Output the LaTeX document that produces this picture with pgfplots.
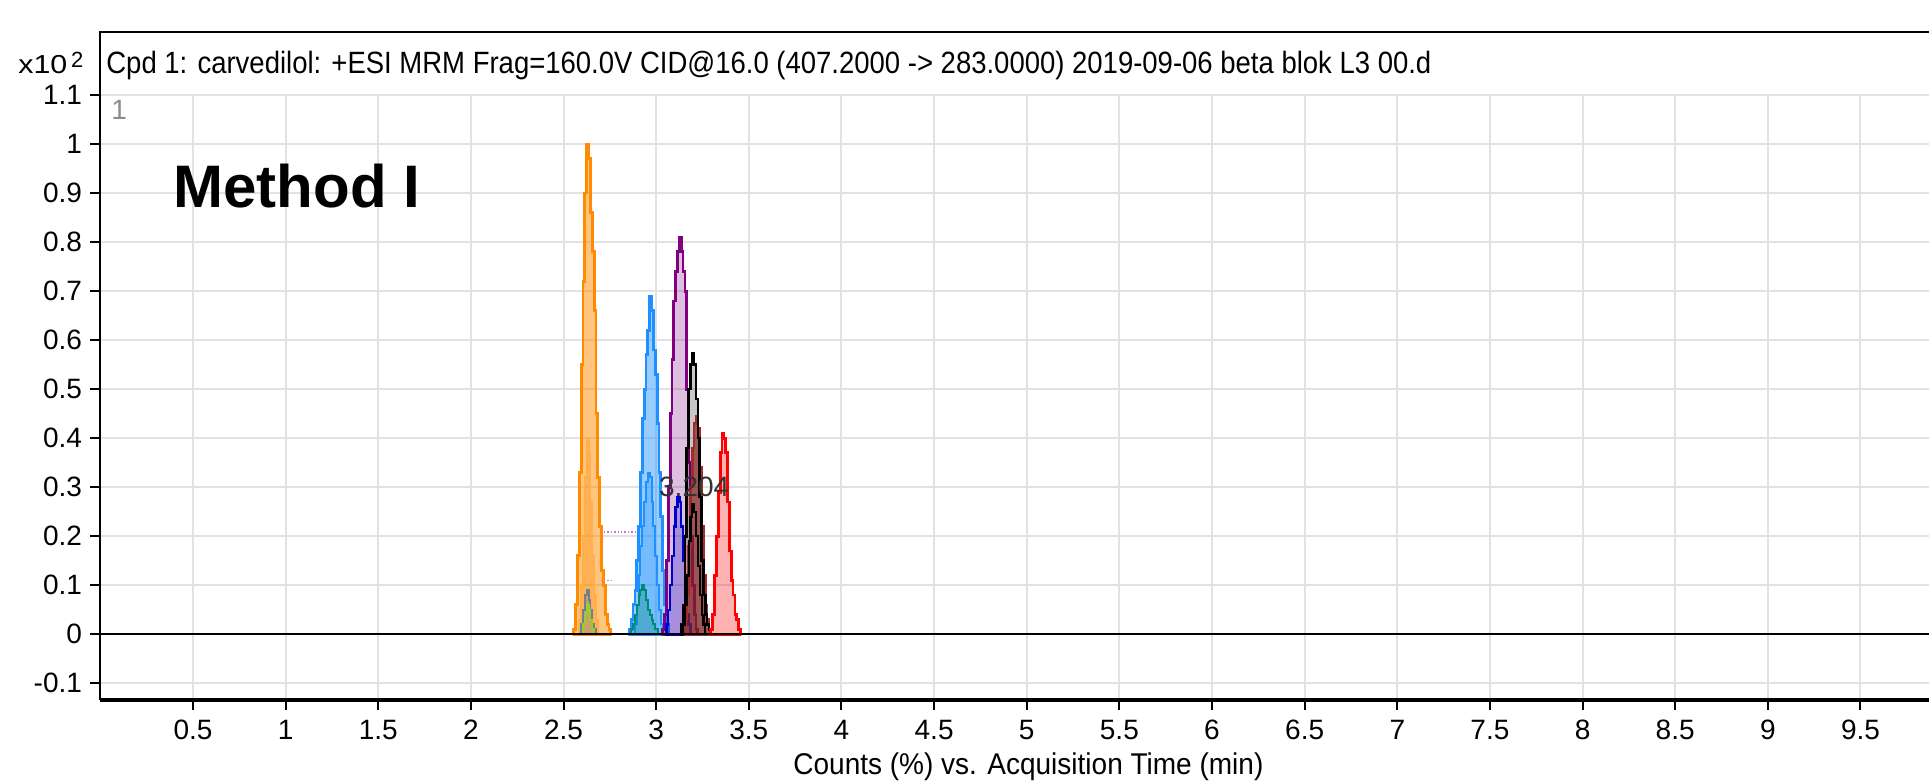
\documentclass[border=0pt]{standalone}
\usepackage{pgfplots}
\pgfplotsset{compat=1.18}
\usepackage{fontspec}
\setmainfont{Liberation Sans}
\usepackage{graphicx}
\definecolor{corange}{HTML}{FF8C00}
\definecolor{cblue}{HTML}{1E90FF}
\definecolor{cpurple}{HTML}{800080}
\definecolor{cindigo}{HTML}{0000CD}
\definecolor{cbrown}{HTML}{A52A2A}
\definecolor{cred}{HTML}{FF0000}
\definecolor{cslate}{HTML}{708090}
\definecolor{cgreen}{HTML}{9ACD32}
\definecolor{cteal}{HTML}{008B74}
\definecolor{cgrid}{HTML}{E2E2E2}
\begin{document}
\begin{tikzpicture}
\path[use as bounding box] (-50.2pt,-41pt) rectangle (914.3pt,350pt);
\begin{axis}[
  at={(0pt,0pt)}, anchor=south west,
  scale only axis, width=914.3pt, height=302.5pt,
  xmin=0, xmax=9.87, ymin=-0.134, ymax=1.1,
  axis lines=left,
  axis line style={-},
  x axis line style={-, line width=1.75pt},
  y axis line style={-, line width=1pt},
  tick align=outside,
  major tick length=5pt,
  major tick style={black, line width=1pt},
  grid=major,
  grid style={cgrid, line width=1pt},
  xtick={0.5,1,1.5,2,2.5,3,3.5,4,4.5,5,5.5,6,6.5,7,7.5,8,8.5,9,9.5},
  xticklabels={0.5,1,1.5,2,2.5,3,3.5,4,4.5,5,5.5,6,6.5,7,7.5,8,8.5,9,9.5},
  ytick={-0.1,0,0.1,0.2,0.3,0.4,0.5,0.6,0.7,0.8,0.9,1,1.1},
  yticklabels={-0.1,0,0.1,0.2,0.3,0.4,0.5,0.6,0.7,0.8,0.9,1,1.1},
  ticklabel style={font=\fontsize{14}{16}\selectfont, inner sep=0pt},
  xticklabel style={anchor=north, yshift=-5pt},
  yticklabel style={anchor=east, xshift=-4pt},
  const plot mark mid,
]
% orange main
\addplot[draw=corange, line width=1.4pt, fill=corange, fill opacity=0.5] coordinates {
(2.55,0) (2.56,0.01) (2.57,0.06) (2.58,0.16) (2.59,0.33) (2.60,0.55) (2.61,0.72) (2.62,0.90) (2.63,1.00) (2.64,0.97) (2.65,0.86) (2.66,0.78) (2.67,0.66) (2.68,0.45) (2.69,0.32) (2.70,0.22) (2.71,0.13) (2.72,0.10) (2.73,0.04) (2.74,0.02) (2.75,0.01) (2.76,0)} \closedcycle;
\addplot[draw=corange!70!white, line width=1pt, fill=corange, fill opacity=0.35] coordinates {
(2.58,0) (2.59,0.03) (2.60,0.10) (2.61,0.20) (2.62,0.32) (2.63,0.40) (2.64,0.37) (2.65,0.27) (2.66,0.16) (2.67,0.08) (2.68,0.03) (2.69,0)} \closedcycle;
\addplot[draw=cslate, line width=1pt, fill=cslate, fill opacity=0.35] coordinates {
(2.59,0) (2.60,0.02) (2.61,0.05) (2.62,0.08) (2.63,0.09) (2.64,0.07) (2.65,0.05) (2.66,0.02) (2.67,0.01) (2.68,0)} \closedcycle;
\addplot[draw=cgreen, line width=1pt] coordinates {
(2.60,0) (2.61,0.02) (2.62,0.04) (2.63,0.06) (2.64,0.05) (2.65,0.03) (2.66,0.01) (2.67,0)};
% faint dotted baselines
\addplot[const plot=false, draw=violet!50, densely dotted, line width=0.7pt] coordinates {(2.70,0.209) (2.90,0.209)};
\addplot[const plot=false, draw=violet!50, densely dotted, line width=0.7pt] coordinates {(2.70,0.11) (2.76,0.11)};
% blue
\addplot[draw=cblue, line width=1.4pt, fill=cblue, fill opacity=0.45] coordinates {
(2.85,0) (2.86,0.01) (2.87,0.03) (2.88,0.06) (2.89,0.09) (2.90,0.15) (2.91,0.22) (2.92,0.33) (2.93,0.44) (2.94,0.50) (2.95,0.57) (2.96,0.62) (2.97,0.69) (2.98,0.66) (2.99,0.58) (3.00,0.53) (3.01,0.43) (3.02,0.33) (3.03,0.24) (3.04,0.13) (3.05,0.06) (3.06,0.02) (3.07,0)} \closedcycle;
\addplot[draw=cblue, line width=1pt, fill=cblue, fill opacity=0.3] coordinates {
(2.88,0) (2.89,0.02) (2.90,0.06) (2.91,0.12) (2.92,0.18) (2.93,0.22) (2.94,0.27) (2.95,0.31) (2.96,0.33) (2.97,0.32) (2.98,0.27) (2.99,0.22) (3.00,0.16) (3.01,0.10) (3.02,0.05) (3.03,0.02) (3.04,0)} \closedcycle;
\addplot[draw=cteal, line width=1pt, fill=cteal, fill opacity=0.3] coordinates {
(2.86,0) (2.87,0.01) (2.88,0.02) (2.89,0.04) (2.90,0.06) (2.91,0.08) (2.92,0.09) (2.93,0.10) (2.94,0.09) (2.95,0.07) (2.96,0.05) (2.97,0.04) (2.98,0.03) (2.99,0.02) (3.00,0.01) (3.02,0)} \closedcycle;
% purple
\addplot[draw=cpurple, line width=1.4pt, fill=cpurple, fill opacity=0.25] coordinates {
(3.03,0) (3.04,0.01) (3.05,0.04) (3.06,0.15) (3.07,0.30) (3.08,0.45) (3.09,0.56) (3.10,0.68) (3.11,0.74) (3.12,0.78) (3.13,0.81) (3.14,0.78) (3.15,0.74) (3.16,0.70) (3.17,0.50) (3.18,0.35) (3.19,0.20) (3.20,0.10) (3.21,0.04) (3.22,0.01) (3.23,0)} \closedcycle;
% indigo
\addplot[draw=cindigo, line width=1.2pt, fill=cindigo, fill opacity=0.25] coordinates {
(3.05,0) (3.06,0.02) (3.07,0.05) (3.08,0.10) (3.09,0.16) (3.10,0.22) (3.11,0.26) (3.12,0.28) (3.13,0.27) (3.14,0.22) (3.15,0.15) (3.16,0.08) (3.17,0.04) (3.18,0.02) (3.19,0)} \closedcycle;
% black fill
\addplot[draw=none, fill=black, fill opacity=0.22] coordinates {
(3.13,0) (3.14,0.02) (3.15,0.06) (3.16,0.20) (3.17,0.38) (3.18,0.50) (3.19,0.55) (3.20,0.573) (3.21,0.55) (3.22,0.48) (3.23,0.40) (3.24,0.28) (3.25,0.15) (3.26,0.08) (3.27,0.04) (3.28,0.02) (3.29,0.01) (3.30,0)} \closedcycle;
% brown
\addplot[draw=cbrown, line width=1.2pt, fill=cbrown!85!black, fill opacity=0.7] coordinates {
(3.15,0) (3.16,0.03) (3.17,0.08) (3.18,0.18) (3.19,0.30) (3.20,0.38) (3.21,0.43) (3.22,0.445) (3.23,0.42) (3.24,0.34) (3.25,0.22) (3.26,0.12) (3.27,0.06) (3.28,0.03) (3.29,0.01) (3.30,0)} \closedcycle;
% black outlines
\addplot[draw=black, line width=1.3pt] coordinates {
(3.13,0) (3.14,0.02) (3.15,0.06) (3.16,0.20) (3.17,0.38) (3.18,0.50) (3.19,0.55) (3.20,0.573) (3.21,0.55) (3.22,0.48) (3.23,0.40) (3.24,0.28) (3.25,0.15) (3.26,0.08) (3.27,0.04) (3.28,0.02) (3.29,0.01) (3.30,0)};
\addplot[draw=black, line width=1.1pt] coordinates {
(3.14,0) (3.15,0.02) (3.16,0.06) (3.17,0.12) (3.18,0.19) (3.19,0.24) (3.20,0.266) (3.21,0.25) (3.22,0.20) (3.23,0.14) (3.24,0.08) (3.25,0.04) (3.26,0.02) (3.27,0)};
% red
\addplot[draw=cred, line width=1.4pt, fill=cred, fill opacity=0.3] coordinates {
(3.29,0) (3.30,0.01) (3.31,0.04) (3.32,0.12) (3.33,0.20) (3.34,0.29) (3.35,0.37) (3.36,0.41) (3.37,0.40) (3.38,0.37) (3.39,0.27) (3.40,0.17) (3.41,0.11) (3.42,0.08) (3.43,0.04) (3.44,0.03) (3.45,0.01) (3.46,0)} \closedcycle;
% zero line
\draw[black, line width=1pt] (axis cs:0,0) -- (axis cs:9.87,0);
\node[font=\fontsize{14}{16}\selectfont, text=black!80, inner sep=0pt] at (axis cs:3.205,0.30) {3.204};
\end{axis}
% frame above plot area
\draw[black, line width=1pt] (0pt,300pt) -- (0pt,334pt) -- (916pt,334pt);
% title
\node[anchor=base west, inner sep=0pt] at (2.8pt,313pt) {\resizebox{662.5pt}{\height}{\fontsize{15.4}{18}\selectfont Cpd 1: carvedilol: +ESI MRM Frag=160.0V CID@16.0 (407.2000 -> 283.0000) 2019-09-06 beta blok L3 00.d}};
% y multiplier
\node[anchor=base west, inner sep=0pt] at (-41.2pt,313pt) {\resizebox{24.5pt}{\height}{\fontsize{13}{15}\selectfont x10}};
\node[anchor=base west, inner sep=0pt] at (-14.8pt,316pt) {\fontsize{11}{12}\selectfont 2};
\node[anchor=base west, inner sep=0pt, text=black!45] at (5.3pt,290pt) {\fontsize{14}{16}\selectfont 1};
\node[anchor=base west, inner sep=0pt] at (36.3pt,246pt) {\fontsize{30}{36}\selectfont\bfseries Method I};
% x label
\node[anchor=base west, inner sep=0pt] at (346.3pt,-37.5pt) {\resizebox{235pt}{\height}{\fontsize{15}{18}\selectfont Counts (\%) vs. Acquisition Time (min)}};
\end{tikzpicture}
\end{document}
